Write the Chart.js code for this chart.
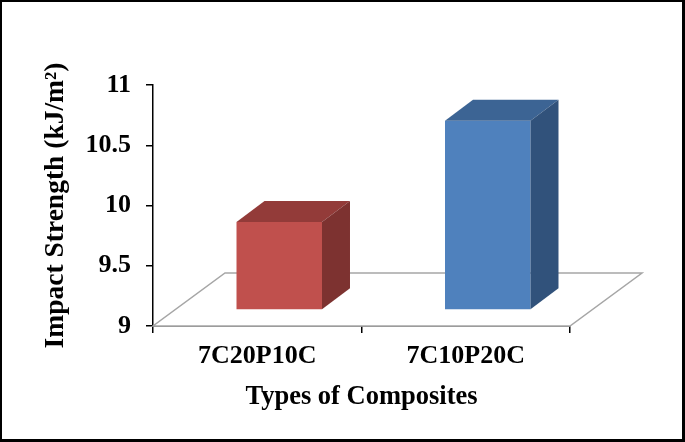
<!DOCTYPE html>
<html>
<head>
<meta charset="utf-8">
<script src="https://cdn.jsdelivr.net/npm/chart.js@4/dist/chart.umd.min.js"></script>
<style>
  html, body { margin: 0; padding: 0; background: #fff; }
  canvas { display: block; }
</style>
</head>
<body>
<canvas id="c" width="685" height="442"></canvas>
<script>
// ---- data ----
const categories = ['7C20P10C', '7C10P20C'];
const impactStrength = [9.73, 10.57];
const yTickValues = [9, 9.5, 10, 10.5, 11];
const yTickLabels = ['9', '9.5', '10', '10.5', '11'];
const xTitle = 'Types of Composites';
const yTitle = 'Impact Strength (kJ/m\u00B2)';

// ---- styles ----
const frontColors = ['#C0504D', '#4F81BD'];
const topColors = ['#933B39', '#3C6494'];
const sideColors = ['#7D3230', '#31527B'];
const FONT = 'Liberation Serif, Times New Roman, serif';

// 3D projection constants (pixels)
const FLOOR_DX = 72, FLOOR_DY = -53;   // depth of floor
const BAR_DX = 28, BAR_DY = -21;       // depth of each bar
const FRONT_DX = (FLOOR_DX - BAR_DX) / 2, FRONT_DY = (FLOOR_DY - BAR_DY) / 2;

const threeD = {
  id: 'threeD',
  beforeDraw(chart) {
    const ctx = chart.ctx;
    ctx.save();
    ctx.fillStyle = '#fff';
    ctx.fillRect(0, 0, chart.width, chart.height);
    ctx.restore();
  },
  beforeDatasetsDraw(chart) {
    const ctx = chart.ctx;
    const a = chart.chartArea;
    const y0 = chart.scales.y.getPixelForValue(yTickValues[0]);
    ctx.save();
    ctx.beginPath();
    ctx.moveTo(a.left, y0);
    ctx.lineTo(a.right, y0);
    ctx.lineTo(a.right + FLOOR_DX, y0 + FLOOR_DY);
    ctx.lineTo(a.left + FLOOR_DX, y0 + FLOOR_DY);
    ctx.closePath();
    ctx.fillStyle = '#fff';
    ctx.fill();
    ctx.strokeStyle = '#a6a6a6';
    ctx.lineWidth = 1.5;
    ctx.stroke();
    ctx.restore();
    ctx.save();
    ctx.translate(FRONT_DX, FRONT_DY);
  },
  afterDatasetsDraw(chart) {
    const ctx = chart.ctx;
    ctx.restore();
    const meta = chart.getDatasetMeta(0);
    meta.data.forEach((bar, i) => {
      const p = bar.getProps(['x', 'y', 'base', 'width'], true);
      const l = p.x - p.width / 2 + FRONT_DX;
      const r = p.x + p.width / 2 + FRONT_DX;
      const t = p.y + FRONT_DY;
      const b = p.base + FRONT_DY;
      // top face
      ctx.beginPath();
      ctx.moveTo(l, t);
      ctx.lineTo(r, t);
      ctx.lineTo(r + BAR_DX, t + BAR_DY);
      ctx.lineTo(l + BAR_DX, t + BAR_DY);
      ctx.closePath();
      ctx.fillStyle = topColors[i];
      ctx.fill();
      // side face
      ctx.beginPath();
      ctx.moveTo(r, t);
      ctx.lineTo(r + BAR_DX, t + BAR_DY);
      ctx.lineTo(r + BAR_DX, b + BAR_DY);
      ctx.lineTo(r, b);
      ctx.closePath();
      ctx.fillStyle = sideColors[i];
      ctx.fill();
    });
  },
  afterDraw(chart) {
    const ctx = chart.ctx;
    ctx.save();
    ctx.fillStyle = '#000';
    ctx.fillRect(0, 0, 2, chart.height);
    ctx.fillRect(0, 0, chart.width, 2);
    ctx.fillRect(chart.width - 3, 0, 3, chart.height);
    ctx.fillRect(0, chart.height - 3, chart.width, 3);
    ctx.restore();
  }
};

new Chart(document.getElementById('c'), {
  type: 'bar',
  data: {
    labels: categories,
    datasets: [{
      data: impactStrength,
      base: yTickValues[0],
      backgroundColor: frontColors,
      borderWidth: 0,
      barPercentage: 0.41,
      categoryPercentage: 1
    }]
  },
  options: {
    responsive: false,
    devicePixelRatio: 1,
    animation: false,
    layout: { padding: { left: 0, top: 85, right: 115, bottom: 0 } },
    plugins: { legend: { display: false }, tooltip: { enabled: false } },
    scales: {
      x: {
        offset: true,
        grid: { display: true, drawOnChartArea: false, drawTicks: true, tickLength: 7, color: '#000', lineWidth: 1.5, offset: true },
        border: { display: true, color: '#000', width: 1.5 },
        ticks: { color: '#000', padding: 8, font: { family: FONT, size: 26, weight: 'bold' } },
        title: { display: true, text: xTitle, color: '#000', font: { family: FONT, size: 26.5, weight: 'bold' }, padding: { top: 0, bottom: 29 } },
        afterFit(s) { s.height = 116; }
      },
      y: {
        min: yTickValues[0], max: yTickValues[yTickValues.length - 1],
        afterBuildTicks(s) { s.ticks = yTickValues.map(v => ({ value: v })); },
        grid: { display: true, drawOnChartArea: false, drawTicks: true, tickLength: 7, color: '#000', lineWidth: 1.5 },
        border: { display: true, color: '#000', width: 1.5 },
        ticks: {
          color: '#000', padding: 15, font: { family: FONT, size: 26, weight: 'bold' },
          callback(v) { const i = yTickValues.indexOf(v); return i >= 0 ? yTickLabels[i] : ''; }
        },
        title: { display: true, text: yTitle, color: '#000', font: { family: FONT, size: 27.5, weight: 'bold' }, padding: { top: 39, bottom: 0 } },
        afterFit(s) { s.width = 153; }
      }
    }
  },
  plugins: [threeD]
});
</script>
</body>
</html>
